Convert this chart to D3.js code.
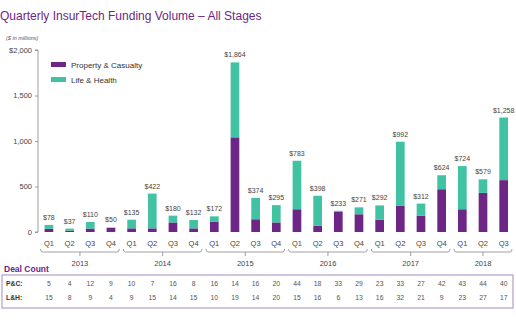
<!DOCTYPE html>
<html lang="en">
  <head>
    <meta charset="utf-8">
    <title>Quarterly InsurTech Funding Volume</title>
    <script src="https://d3js.org/d3.v7.min.js"></script>
    <style>
      body { margin: 0; background: #fff; }
    </style>
  </head>
  <body>
    <script type="text/javascript">
      const years = ["2013", "2014", "2015", "2016", "2017", "2018"];
      const quarters = ["Q1","Q2","Q3","Q4","Q1","Q2","Q3","Q4","Q1","Q2","Q3","Q4",
                        "Q1","Q2","Q3","Q4","Q1","Q2","Q3","Q4","Q1","Q2","Q3"];
      const totals = [78,37,110,50,135,422,180,132,172,1864,374,295,
                      783,398,233,271,292,992,312,624,724,579,1258];
      const pcFunding = [35,15,38,45,40,40,105,40,115,1040,140,105,
                         250,70,225,195,135,290,180,470,250,430,570];
      const pcDeals = [5,4,12,9,10,7,16,8,16,14,16,20,44,18,33,29,23,33,27,42,43,44,40];
      const lhDeals = [15,8,9,4,9,15,14,15,10,19,14,20,15,16,6,13,16,32,21,9,23,27,17];
      const yTicks = [0, 500, 1000, 1500, 2000];

      const width = 516, height = 323;
      const font = "Liberation Sans, Arial, sans-serif";
      const purple = "#6d2586";
      const teal = "#41c2a2";
      const textGray = "#444";

      const data = quarters.map((q, i) => ({
        i: i, q: q, total: totals[i], pc: pcFunding[i], lh: totals[i] - pcFunding[i]
      }));

      const svg = d3.select("body").append("svg")
        .attr("width", width)
        .attr("height", height)
        .style("font-family", font);

      svg.append("text")
        .attr("x", 0).attr("y", 20)
        .attr("fill", purple)
        .attr("font-size", "12px")
        .text("Quarterly InsurTech Funding Volume \u2013 All Stages");

      svg.append("text")
        .attr("x", 6).attr("y", 40)
        .attr("fill", "#555")
        .attr("font-size", "5.5px")
        .attr("font-style", "italic")
        .text("($ in millions)");

      const x = d3.scaleBand()
        .domain(d3.range(quarters.length))
        .range([38.6, 514])
        .paddingInner(0.58)
        .paddingOuter(0.29);

      const y = d3.scaleLinear()
        .domain([0, 2000])
        .range([232, 50]);

      const cx = i => x(i) + x.bandwidth() / 2;

      // y axis
      const yAxis = svg.append("g")
        .attr("transform", "translate(38,0)")
        .call(d3.axisLeft(y).tickValues(yTicks).tickSize(3).tickPadding(3)
          .tickFormat(d => d === 2000 ? "$2,000" : d3.format(",")(d)));
      yAxis.select(".domain").attr("stroke", "#888").attr("stroke-width", 0.8)
        .attr("d", "M-3," + y(2000) + "H0V" + y(0) + "H-3");
      yAxis.selectAll(".tick line").attr("stroke", "#888").attr("stroke-width", 0.8);
      yAxis.selectAll(".tick text").attr("fill", textGray).attr("font-size", "7.5px")
        .attr("font-family", font);

      // stacked bars
      const bars = svg.append("g").selectAll("g").data(data).enter().append("g");
      bars.append("rect")
        .attr("x", d => x(d.i))
        .attr("width", x.bandwidth())
        .attr("y", d => y(d.pc))
        .attr("height", d => y(0) - y(d.pc))
        .attr("fill", purple);
      bars.append("rect")
        .attr("x", d => x(d.i))
        .attr("width", x.bandwidth())
        .attr("y", d => y(d.total))
        .attr("height", d => y(d.pc) - y(d.total))
        .attr("fill", teal);
      bars.append("text")
        .attr("x", d => cx(d.i))
        .attr("y", d => y(d.total) - 5)
        .attr("text-anchor", "middle")
        .attr("fill", textGray)
        .attr("font-size", "7px")
        .text(d => "$" + d3.format(",")(d.total));

      // quarter labels
      svg.append("g").selectAll("text").data(data).enter().append("text")
        .attr("x", d => cx(d.i))
        .attr("y", 246)
        .attr("text-anchor", "middle")
        .attr("fill", textGray)
        .attr("font-size", "7.5px")
        .text(d => d.q);

      // year brackets
      const brackets = svg.append("g").selectAll("g").data(years).enter().append("g");
      brackets.append("path")
        .attr("fill", "none")
        .attr("stroke", "#888")
        .attr("stroke-width", 0.8)
        .attr("d", (d, k) => {
          const first = k * 4, last = Math.min(k * 4 + 3, quarters.length - 1);
          const x0 = x(first) - x.step() * x.paddingInner() / 2 + 2;
          const x1 = x(last) + x.bandwidth() + x.step() * x.paddingInner() / 2 - 2;
          const mid = (x0 + x1) / 2;
          return "M" + x0 + ",249Q" + x0 + ",252 " + (x0 + 2) + ",252H" + (x1 - 2) +
            "Q" + x1 + ",252 " + x1 + ",249M" + mid + ",252V256";
        });
      brackets.append("text")
        .attr("x", (d, k) => {
          const first = k * 4, last = Math.min(k * 4 + 3, quarters.length - 1);
          return (x(first) + x(last) + x.bandwidth()) / 2;
        })
        .attr("y", 266)
        .attr("text-anchor", "middle")
        .attr("fill", textGray)
        .attr("font-size", "7.5px")
        .text(d => d);

      // legend
      const legendItems = [["Property & Casualty", purple], ["Life & Health", teal]];
      const legend = svg.append("g").selectAll("g").data(legendItems).enter().append("g")
        .attr("transform", (d, k) => "translate(51," + (62 + k * 15) + ")");
      legend.append("rect").attr("width", 15).attr("height", 5).attr("fill", d => d[1]);
      legend.append("text")
        .attr("x", 20).attr("y", 5.5)
        .attr("fill", "#333")
        .attr("font-size", "8px")
        .text(d => d[0]);

      // deal count table
      svg.append("text")
        .attr("x", 4).attr("y", 272)
        .attr("fill", purple)
        .attr("font-size", "8.5px")
        .attr("font-weight", "bold")
        .text("Deal Count");

      svg.append("rect")
        .attr("x", 2).attr("y", 275)
        .attr("width", 511).attr("height", 33)
        .attr("fill", "none")
        .attr("stroke", "#a888bd")
        .attr("stroke-width", 1);

      const rows = [["P&C:", pcDeals, 286], ["L&H:", lhDeals, 300]];
      rows.forEach(r => {
        const g = svg.append("g");
        g.append("text")
          .attr("x", 6).attr("y", r[2])
          .attr("fill", "#333")
          .attr("font-size", "6.8px")
          .attr("font-weight", "bold")
          .text(r[0]);
        g.selectAll(".v").data(r[1]).enter().append("text")
          .attr("x", (d, i) => cx(i))
          .attr("y", r[2])
          .attr("text-anchor", "middle")
          .attr("fill", "#555")
          .attr("font-size", "6.8px")
          .text(d => d);
      });
    </script>
  </body>
</html>
